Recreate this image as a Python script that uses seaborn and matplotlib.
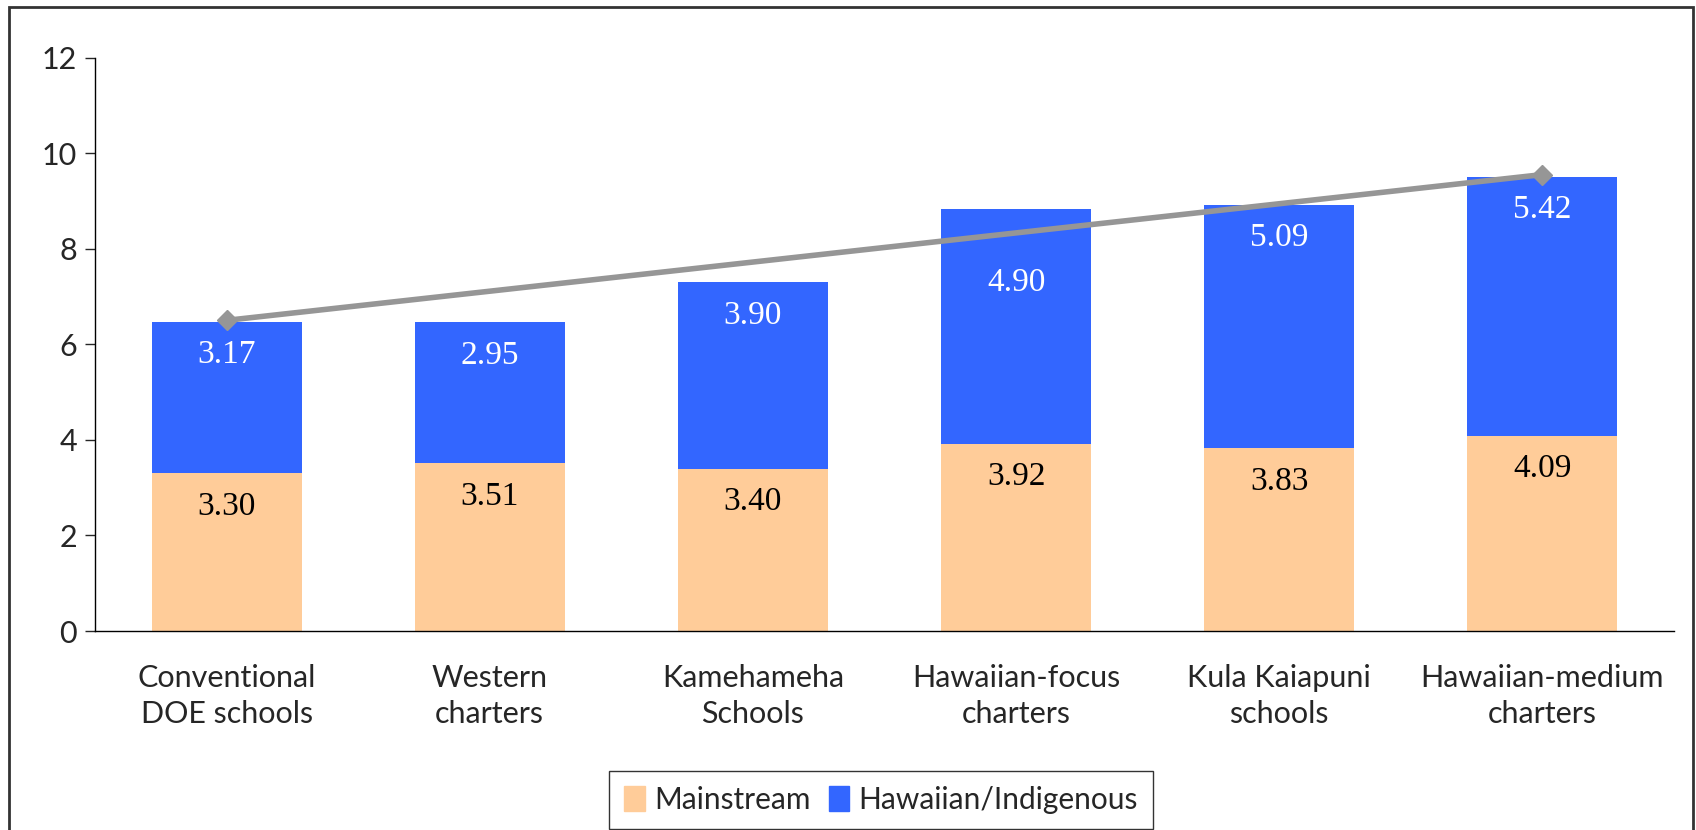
import numpy as np
import pandas as pd
import matplotlib
matplotlib.use("Agg")
import matplotlib.pyplot as plt
import matplotlib.patches as mpatches
import seaborn as sns

categories = ["Conventional\nDOE schools", "Western\ncharters", "Kamehameha\nSchools",
              "Hawaiian-focus\ncharters", "Kula Kaiapuni\nschools", "Hawaiian-medium\ncharters"]
mainstream = [3.30, 3.51, 3.40, 3.92, 3.83, 4.09]
hawaiian = [3.17, 2.95, 3.90, 4.90, 5.09, 5.42]
trend_x = [0, 5]
trend_y = [6.50, 9.55]

peach = "#FFCC99"
blue = "#3366FF"

sns.set_style("white")
plt.rcParams["font.family"] = ["Lato", "DejaVu Sans"]

df = pd.DataFrame({"cat": categories, "Mainstream": mainstream, "Hawaiian": hawaiian})

fig = plt.figure(figsize=(16.96, 8.30), dpi=100)
ax = fig.add_axes([95 / 1696, 199 / 830, (1674 - 95) / 1696, (631 - 57.5) / 830])

sns.barplot(data=df, x="cat", y="Mainstream", color=peach, width=0.57,
            saturation=1, linewidth=0, ax=ax)
sns.barplot(data=df, x="cat", y="Hawaiian", bottom=df["Mainstream"], color=blue,
            width=0.57, saturation=1, linewidth=0, ax=ax)

ax.plot(trend_x, trend_y, color="#969696", lw=4, marker="D", ms=10, zorder=5)

# the 4.90 label sits lower in the original, clear of the trend line
top_offsets = [-24, -24, -24, -53, -24, -24]
for i, (m, h) in enumerate(zip(mainstream, hawaiian)):
    ax.annotate(f"{m:.2f}", (i, m), xytext=(0, -24), textcoords="offset points",
                ha="center", va="center", fontsize=24, color="black",
                family="Liberation Serif")
    ax.annotate(f"{h:.2f}", (i, m + h), xytext=(0, top_offsets[i]), textcoords="offset points",
                ha="center", va="center", fontsize=24, color="white",
                family="Liberation Serif")

ax.set_xlim(-0.5, 5.5)
ax.set_ylim(0, 12)
ax.set_yticks(range(0, 13, 2))
ax.set_xlabel("")
ax.set_ylabel("")
ax.tick_params(axis="y", which="major", direction="out", length=7, width=1,
               labelsize=22, pad=6, left=True)
ax.tick_params(axis="x", length=0, labelsize=22, pad=24)
for lab in ax.get_xticklabels():
    lab.set_linespacing(1.35)
for s in ["top", "right"]:
    ax.spines[s].set_visible(False)
for s in ["left", "bottom"]:
    ax.spines[s].set_color("black")
    ax.spines[s].set_linewidth(1)

handles = [mpatches.Patch(color=peach, label="Mainstream"),
           mpatches.Patch(color=blue, label="Hawaiian/Indigenous")]
leg = fig.legend(handles=handles, loc="upper center", bbox_to_anchor=(881 / 1696, 1 - 756 / 830),
                 ncol=2, fontsize=21.5, frameon=True, fancybox=False, handlelength=0.7,
                 handleheight=0.9, handletextpad=0.3, columnspacing=0.6, borderpad=0.5)
leg.get_frame().set_edgecolor("black")
leg.get_frame().set_linewidth(1)

border = mpatches.Rectangle((9 / 1696, -0.1), (1693 - 9) / 1696, 1.1 - 7 / 830,
                            transform=fig.transFigure, fill=False, edgecolor="#333333",
                            lw=2, zorder=0)
fig.patches.append(border)

fig.savefig("out.png", dpi=100)
